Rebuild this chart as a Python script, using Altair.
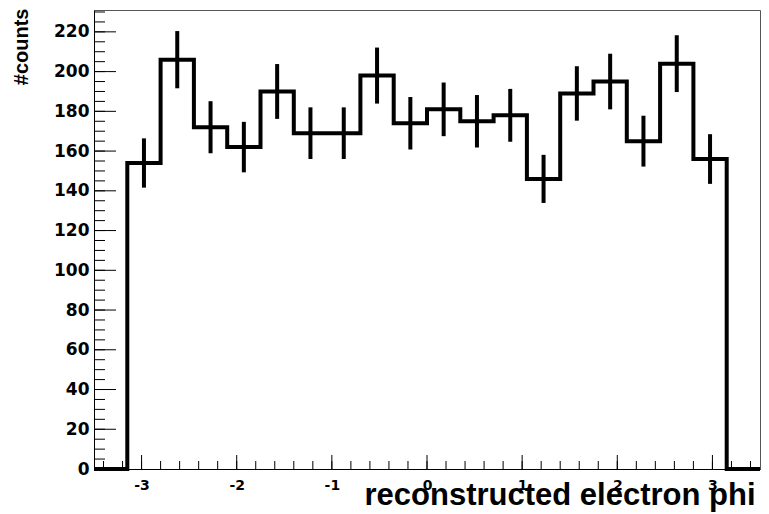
import altair as alt
import pandas as pd

# histogram bin edges (21 edges, 20 bins) and bin contents
edges = [-3.5, -3.15, -2.8, -2.45, -2.1, -1.75, -1.4, -1.05, -0.7, -0.35, 0.0,
         0.35, 0.7, 1.05, 1.4, 1.75, 2.1, 2.45, 2.8, 3.15, 3.5]
counts = [0, 154, 206, 172, 162, 190, 169, 169, 198, 174, 181,
          175, 178, 146, 189, 195, 165, 204, 156, 0]
errors = [0, 12.4, 14.4, 13.1, 12.7, 13.8, 13.0, 13.0, 14.1, 13.2, 13.5,
          13.2, 13.3, 12.1, 13.7, 14.0, 12.8, 14.3, 12.5, 0]

y_major = [0, 20, 40, 60, 80, 100, 120, 140, 160, 180, 200, 220]
y_minor = list(range(0, 235, 5))
x_major = [-3, -2, -1, 0, 1, 2, 3]
x_minor = [round(-3.4 + 0.2 * i, 2) for i in range(35)]

X_DOMAIN = [-3.5, 3.5]
Y_DOMAIN = [0, 231]
W, H = 666, 459

line_df = pd.DataFrame({"x": edges, "y": counts + [0]})
err_df = pd.DataFrame({
    "x": [(edges[i] + edges[i + 1]) / 2 for i in range(len(counts)) if counts[i] > 0],
    "y": [counts[i] - errors[i] for i in range(len(counts)) if counts[i] > 0],
    "hi": [counts[i] + errors[i] for i in range(len(counts)) if counts[i] > 0],
})

xs = alt.Scale(domain=X_DOMAIN, nice=False, zero=False)
ys = alt.Scale(domain=Y_DOMAIN, nice=False, zero=False)

x_axis = alt.Axis(
    values=x_major, ticks=False, tickSize=0, grid=False,
    domainColor="black", domainWidth=1,
    labelFont="DejaVu Sans", labelFontWeight="bold", labelFontSize=14,
    labelColor="black", labelBaseline="alphabetic", labelPadding=20,
    labelFlush=False, labelExpr="'' + datum.value",
    title="reconstructed electron phi", titleFont="Liberation Sans",
    titleFontWeight="bold", titleFontSize=31, titleColor="black",
    titleX=W - 5, titleY=35, titleAlign="right", titleAnchor="end",
    titleBaseline="alphabetic",
)
y_axis = alt.Axis(
    values=y_major, ticks=False, tickSize=0, grid=False,
    domainColor="black", domainWidth=1,
    labelFont="DejaVu Sans", labelFontWeight="bold", labelFontSize=17,
    labelColor="black", labelPadding=5,
    title="#counts", titleFont="Liberation Sans", titleFontWeight="bold",
    titleFontSize=20, titleColor="black", titleAngle=270,
    titleX=-67, titleY=-2, titleAlign="right", titleAnchor="end",
    titleBaseline="alphabetic",
)

line = alt.Chart(line_df).mark_line(
    interpolate="step-after", color="black", strokeWidth=4,
    strokeJoin="miter", strokeCap="butt",
).encode(
    x=alt.X("x:Q", scale=xs, axis=x_axis),
    y=alt.Y("y:Q", scale=ys, axis=y_axis),
)

err = alt.Chart(err_df).mark_rule(color="black", strokeWidth=4, strokeCap="butt").encode(
    x=alt.X("x:Q", scale=xs, axis=x_axis),
    y=alt.Y("y:Q", scale=ys, axis=y_axis),
    y2="hi:Q",
)

ymaj = alt.Chart(pd.DataFrame({"y": y_major})).mark_rule(color="black", strokeWidth=1).encode(
    y=alt.Y("y:Q", scale=ys, axis=y_axis), x=alt.value(0), x2=alt.value(22))
ymin = alt.Chart(pd.DataFrame({"y": y_minor})).mark_rule(color="black", strokeWidth=1).encode(
    y=alt.Y("y:Q", scale=ys, axis=y_axis), x=alt.value(0), x2=alt.value(11))
xmaj = alt.Chart(pd.DataFrame({"x": x_major})).mark_rule(color="black", strokeWidth=1).encode(
    x=alt.X("x:Q", scale=xs, axis=x_axis), y=alt.value(H), y2=alt.value(H - 14))
xmin = alt.Chart(pd.DataFrame({"x": x_minor})).mark_rule(color="black", strokeWidth=1).encode(
    x=alt.X("x:Q", scale=xs, axis=x_axis), y=alt.value(H), y2=alt.value(H - 8))

chart = alt.layer(line, err, ymin, ymaj, xmin, xmaj).properties(
    width=W, height=H,
    autosize=alt.AutoSizeParams(type="none"),
    padding={"left": 86, "top": 2, "right": 1, "bottom": 45},
    background="white",
).configure_view(stroke="#555555", strokeWidth=1)

chart.save("out.html", embed_options={"renderer": "svg", "actions": False})
